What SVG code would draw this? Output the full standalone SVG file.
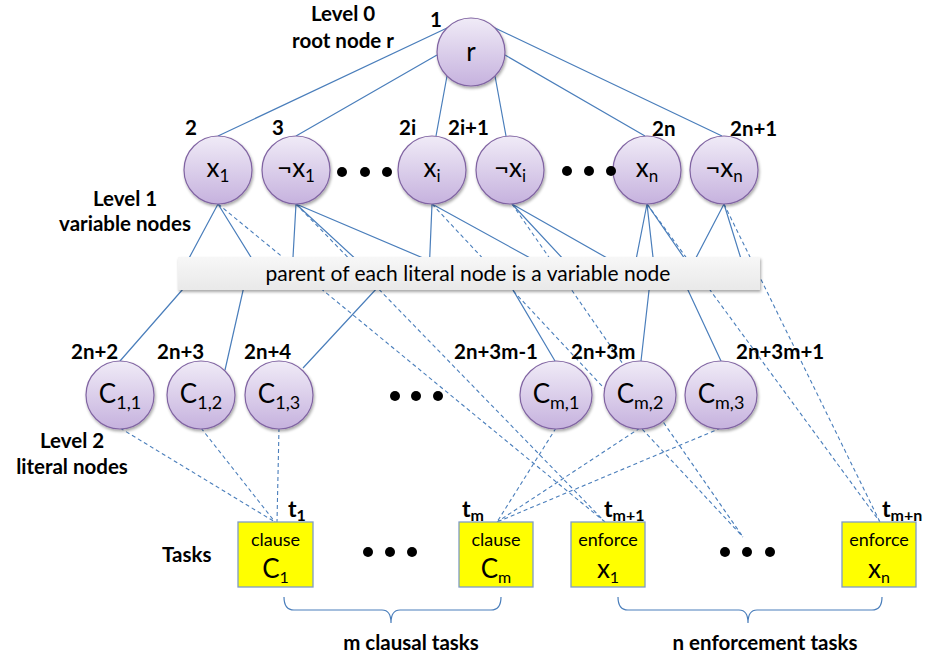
<svg xmlns="http://www.w3.org/2000/svg" width="926" height="658" viewBox="0 0 926 658">
<defs>
<linearGradient id="nodeGrad" x1="0" y1="0" x2="0" y2="1">
<stop offset="0" stop-color="#f0ebf7"/>
<stop offset="1" stop-color="#c6b2de"/>
</linearGradient>
<linearGradient id="bannerGrad" x1="0" y1="0" x2="0" y2="1">
<stop offset="0" stop-color="#f7f7f7"/>
<stop offset="1" stop-color="#e9e9e9"/>
</linearGradient>
<filter id="shadow" x="-20%" y="-20%" width="140%" height="150%">
<feGaussianBlur in="SourceAlpha" stdDeviation="1.5"/>
<feOffset dx="1" dy="2" result="b"/>
<feComponentTransfer><feFuncA type="linear" slope="0.35"/></feComponentTransfer>
<feMerge><feMergeNode/><feMergeNode in="SourceGraphic"/></feMerge>
</filter>
</defs>
<style>
.node{fill:url(#nodeGrad);stroke:#8064a2;stroke-width:1.2;filter:url(#shadow)}
.task{fill:#ffff00;stroke:#7f9cc6;stroke-width:1.3}
.ln{stroke:#4a7ebb;stroke-width:1.2;fill:none}
.dl{stroke:#4a7ebb;stroke-width:1.1;fill:none;stroke-dasharray:4,3}
.lbl{font-family:Lato,"Liberation Sans",sans-serif;font-weight:bold;font-size:20.5px;fill:#000}
.nt{font-family:Lato,"Liberation Sans",sans-serif;font-size:26px;fill:#000;text-anchor:middle}
.tt{font-family:Lato,"Liberation Sans",sans-serif;font-size:18px;fill:#000;text-anchor:middle}
.tl{font-family:Lato,"Liberation Sans",sans-serif;font-weight:bold;font-size:23px;fill:#000}
.dot{fill:#000}
.brace{stroke:#4a7ebb;stroke-width:1.2;fill:none}
</style>

<g id="connectors">
<path class="ln" d="M447,28 L218,136 M437,55 L296,136 M447,76 L436,136 M495,76 L506,136 M505,55 L645,136 M495,28 L722,136"/>
<path class="ln" d="M218,204 L180,275 M218,204 L262,275 M296,204 L292,275 M296,204 L373,275 M296,204 L463,275 M432,204 L429,275 M432,204 L561,275 M512,204 L578,275 M512,204 L637,275 M647,204 L633,275 M647,204 L655,275 M647,204 L696,275 M724,204 L687,275 M724,204 L746,275"/>
<path class="ln" d="M197,273 L120,361 M247,273 L225,370 M391,273 L303,368 M503,273 L555,361 M651,273 L641,361 M680,273 L721,361"/>
<path class="dl" d="M218,204 L605,522 M296,204 L605,522 M432,204 L743,537 M512,204 L743,537 M647,204 L880,522 M724,204 L880,522"/>
<path class="dl" d="M120,428 L275,522 M201,428 L275,522 M279,428 L277,522 M556,428 L497,522 M640,428 L497,522 M721,428 L497,522"/>
</g>

<g id="banner">
<rect x="178" y="257" width="582" height="33" fill="url(#bannerGrad)" filter="url(#shadow)"/>
<text x="468" y="281" font-family="Lato,'Liberation Sans',sans-serif" font-size="21" text-anchor="middle" fill="#000">parent of each literal node is a variable node</text>
</g>

<g id="level-labels">
<text class="lbl" x="343" y="21" text-anchor="middle">Level 0</text>
<text class="lbl" x="343" y="48" text-anchor="middle">root node r</text>
<text class="lbl" x="125" y="206" text-anchor="middle">Level 1</text>
<text class="lbl" x="125" y="231" text-anchor="middle">variable nodes</text>
<text class="lbl" x="72" y="448" text-anchor="middle">Level 2</text>
<text class="lbl" x="72" y="474" text-anchor="middle">literal nodes</text>
<text class="lbl" x="162" y="562">Tasks</text>
<text class="lbl" x="411" y="650" text-anchor="middle">m clausal tasks</text>
<text class="lbl" x="765" y="650" text-anchor="middle">n enforcement tasks</text>
</g>

<g id="node-r">
<circle class="node" cx="471" cy="52" r="34"/>
<text class="nt" x="471" y="61">r</text>
<text class="lbl" x="430" y="27">1</text>
</g>

<g id="node-x1">
<circle class="node" cx="218" cy="170" r="34"/>
<text class="nt" x="218" y="177">x<tspan font-size="17" dy="5">1</tspan></text>
<text class="lbl" x="185" y="135">2</text>
</g>
<g id="node-notx1">
<circle class="node" cx="296" cy="170" r="34"/>
<text class="nt" x="296" y="177">¬x<tspan font-size="17" dy="5">1</tspan></text>
<text class="lbl" x="272" y="135">3</text>
</g>
<g id="node-xi">
<circle class="node" cx="432" cy="170" r="34"/>
<text class="nt" x="432" y="177">x<tspan font-size="17" dy="5">i</tspan></text>
<text class="lbl" x="399" y="135">2i</text>
</g>
<g id="node-notxi">
<circle class="node" cx="510" cy="170" r="34"/>
<text class="nt" x="510" y="177">¬x<tspan font-size="17" dy="5">i</tspan></text>
<text class="lbl" x="448" y="135">2i+1</text>
</g>
<g id="node-xn">
<circle class="node" cx="647" cy="170" r="34"/>
<text class="nt" x="647" y="177">x<tspan font-size="17" dy="5">n</tspan></text>
<text class="lbl" x="652" y="136">2n</text>
</g>
<g id="node-notxn">
<circle class="node" cx="724" cy="170" r="34"/>
<text class="nt" x="724" y="177">¬x<tspan font-size="17" dy="5">n</tspan></text>
<text class="lbl" x="730" y="136">2n+1</text>
</g>

<g id="node-c11">
<ellipse class="node" cx="120" cy="395" rx="34" ry="34"/>
<text class="nt" x="120" y="403" font-size="27">C<tspan font-size="18" dy="6">1,1</tspan></text>
<text class="lbl" x="71" y="359">2n+2</text>
</g>
<g id="node-c12">
<ellipse class="node" cx="201" cy="395" rx="34" ry="34"/>
<text class="nt" x="201" y="403" font-size="27">C<tspan font-size="18" dy="6">1,2</tspan></text>
<text class="lbl" x="157" y="359">2n+3</text>
</g>
<g id="node-c13">
<ellipse class="node" cx="279" cy="395" rx="34" ry="34"/>
<text class="nt" x="279" y="403" font-size="27">C<tspan font-size="18" dy="6">1,3</tspan></text>
<text class="lbl" x="244" y="359">2n+4</text>
</g>
<g id="node-cm1">
<ellipse class="node" cx="556" cy="395" rx="36" ry="34"/>
<text class="nt" x="556" y="403" font-size="27">C<tspan font-size="18" dy="6">m,1</tspan></text>
<text class="lbl" x="454" y="359">2n+3m-1</text>
</g>
<g id="node-cm2">
<ellipse class="node" cx="640" cy="395" rx="36" ry="34"/>
<text class="nt" x="640" y="403" font-size="27">C<tspan font-size="18" dy="6">m,2</tspan></text>
<text class="lbl" x="571" y="359">2n+3m</text>
</g>
<g id="node-cm3">
<ellipse class="node" cx="721" cy="395" rx="36" ry="34"/>
<text class="nt" x="721" y="403" font-size="27">C<tspan font-size="18" dy="6">m,3</tspan></text>
<text class="lbl" x="736" y="359">2n+3m+1</text>
</g>

<g id="task-t1">
<rect class="task" x="238" y="522" width="75" height="65"/>
<text class="tt" x="275.5" y="546">clause</text>
<text class="nt" x="275.5" y="578">C<tspan font-size="16" dy="5">1</tspan></text>
<text class="tl" x="288" y="517">t<tspan font-size="16" dy="4">1</tspan></text>
</g>
<g id="task-tm">
<rect class="task" x="459" y="522" width="74" height="65"/>
<text class="tt" x="496" y="546">clause</text>
<text class="nt" x="496" y="578">C<tspan font-size="16" dy="5">m</tspan></text>
<text class="tl" x="462" y="517">t<tspan font-size="16" dy="4">m</tspan></text>
</g>
<g id="task-tm1">
<rect class="task" x="571" y="522" width="74" height="65"/>
<text class="tt" x="608" y="546">enforce</text>
<text class="nt" x="608" y="578">x<tspan font-size="16" dy="5">1</tspan></text>
<text class="tl" x="604" y="517">t<tspan font-size="16" dy="4">m+1</tspan></text>
</g>
<g id="task-tmn">
<rect class="task" x="842" y="522" width="74" height="65"/>
<text class="tt" x="879" y="546">enforce</text>
<text class="nt" x="879" y="578">x<tspan font-size="16" dy="5">n</tspan></text>
<text class="tl" x="882" y="517">t<tspan font-size="16" dy="4">m+n</tspan></text>
</g>

<g id="ellipses">
<circle class="dot" cx="342" cy="172" r="5"/><circle class="dot" cx="365" cy="172" r="5"/><circle class="dot" cx="387" cy="172" r="5"/>
<circle class="dot" cx="567" cy="171" r="5"/><circle class="dot" cx="589" cy="171" r="5"/><circle class="dot" cx="611" cy="171" r="5"/>
<circle class="dot" cx="395" cy="396" r="5"/><circle class="dot" cx="416" cy="396" r="5"/><circle class="dot" cx="438" cy="396" r="5"/>
<circle class="dot" cx="368" cy="552" r="5"/><circle class="dot" cx="390" cy="552" r="5"/><circle class="dot" cx="412" cy="552" r="5"/>
<circle class="dot" cx="725" cy="552" r="5"/><circle class="dot" cx="747" cy="552" r="5"/><circle class="dot" cx="770" cy="552" r="5"/>
</g>

<g id="braces">
<path class="brace" d="M284,597 Q284,610 294,610 L382,610 Q391,610 391,623 Q391,610 400,610 L491,610 Q501,610 501,597"/>
<path class="brace" d="M618,597 Q618,610 628,610 L739,610 Q748,610 748,623 Q748,610 757,610 L872,610 Q882,610 882,597"/>
</g>
</svg>
